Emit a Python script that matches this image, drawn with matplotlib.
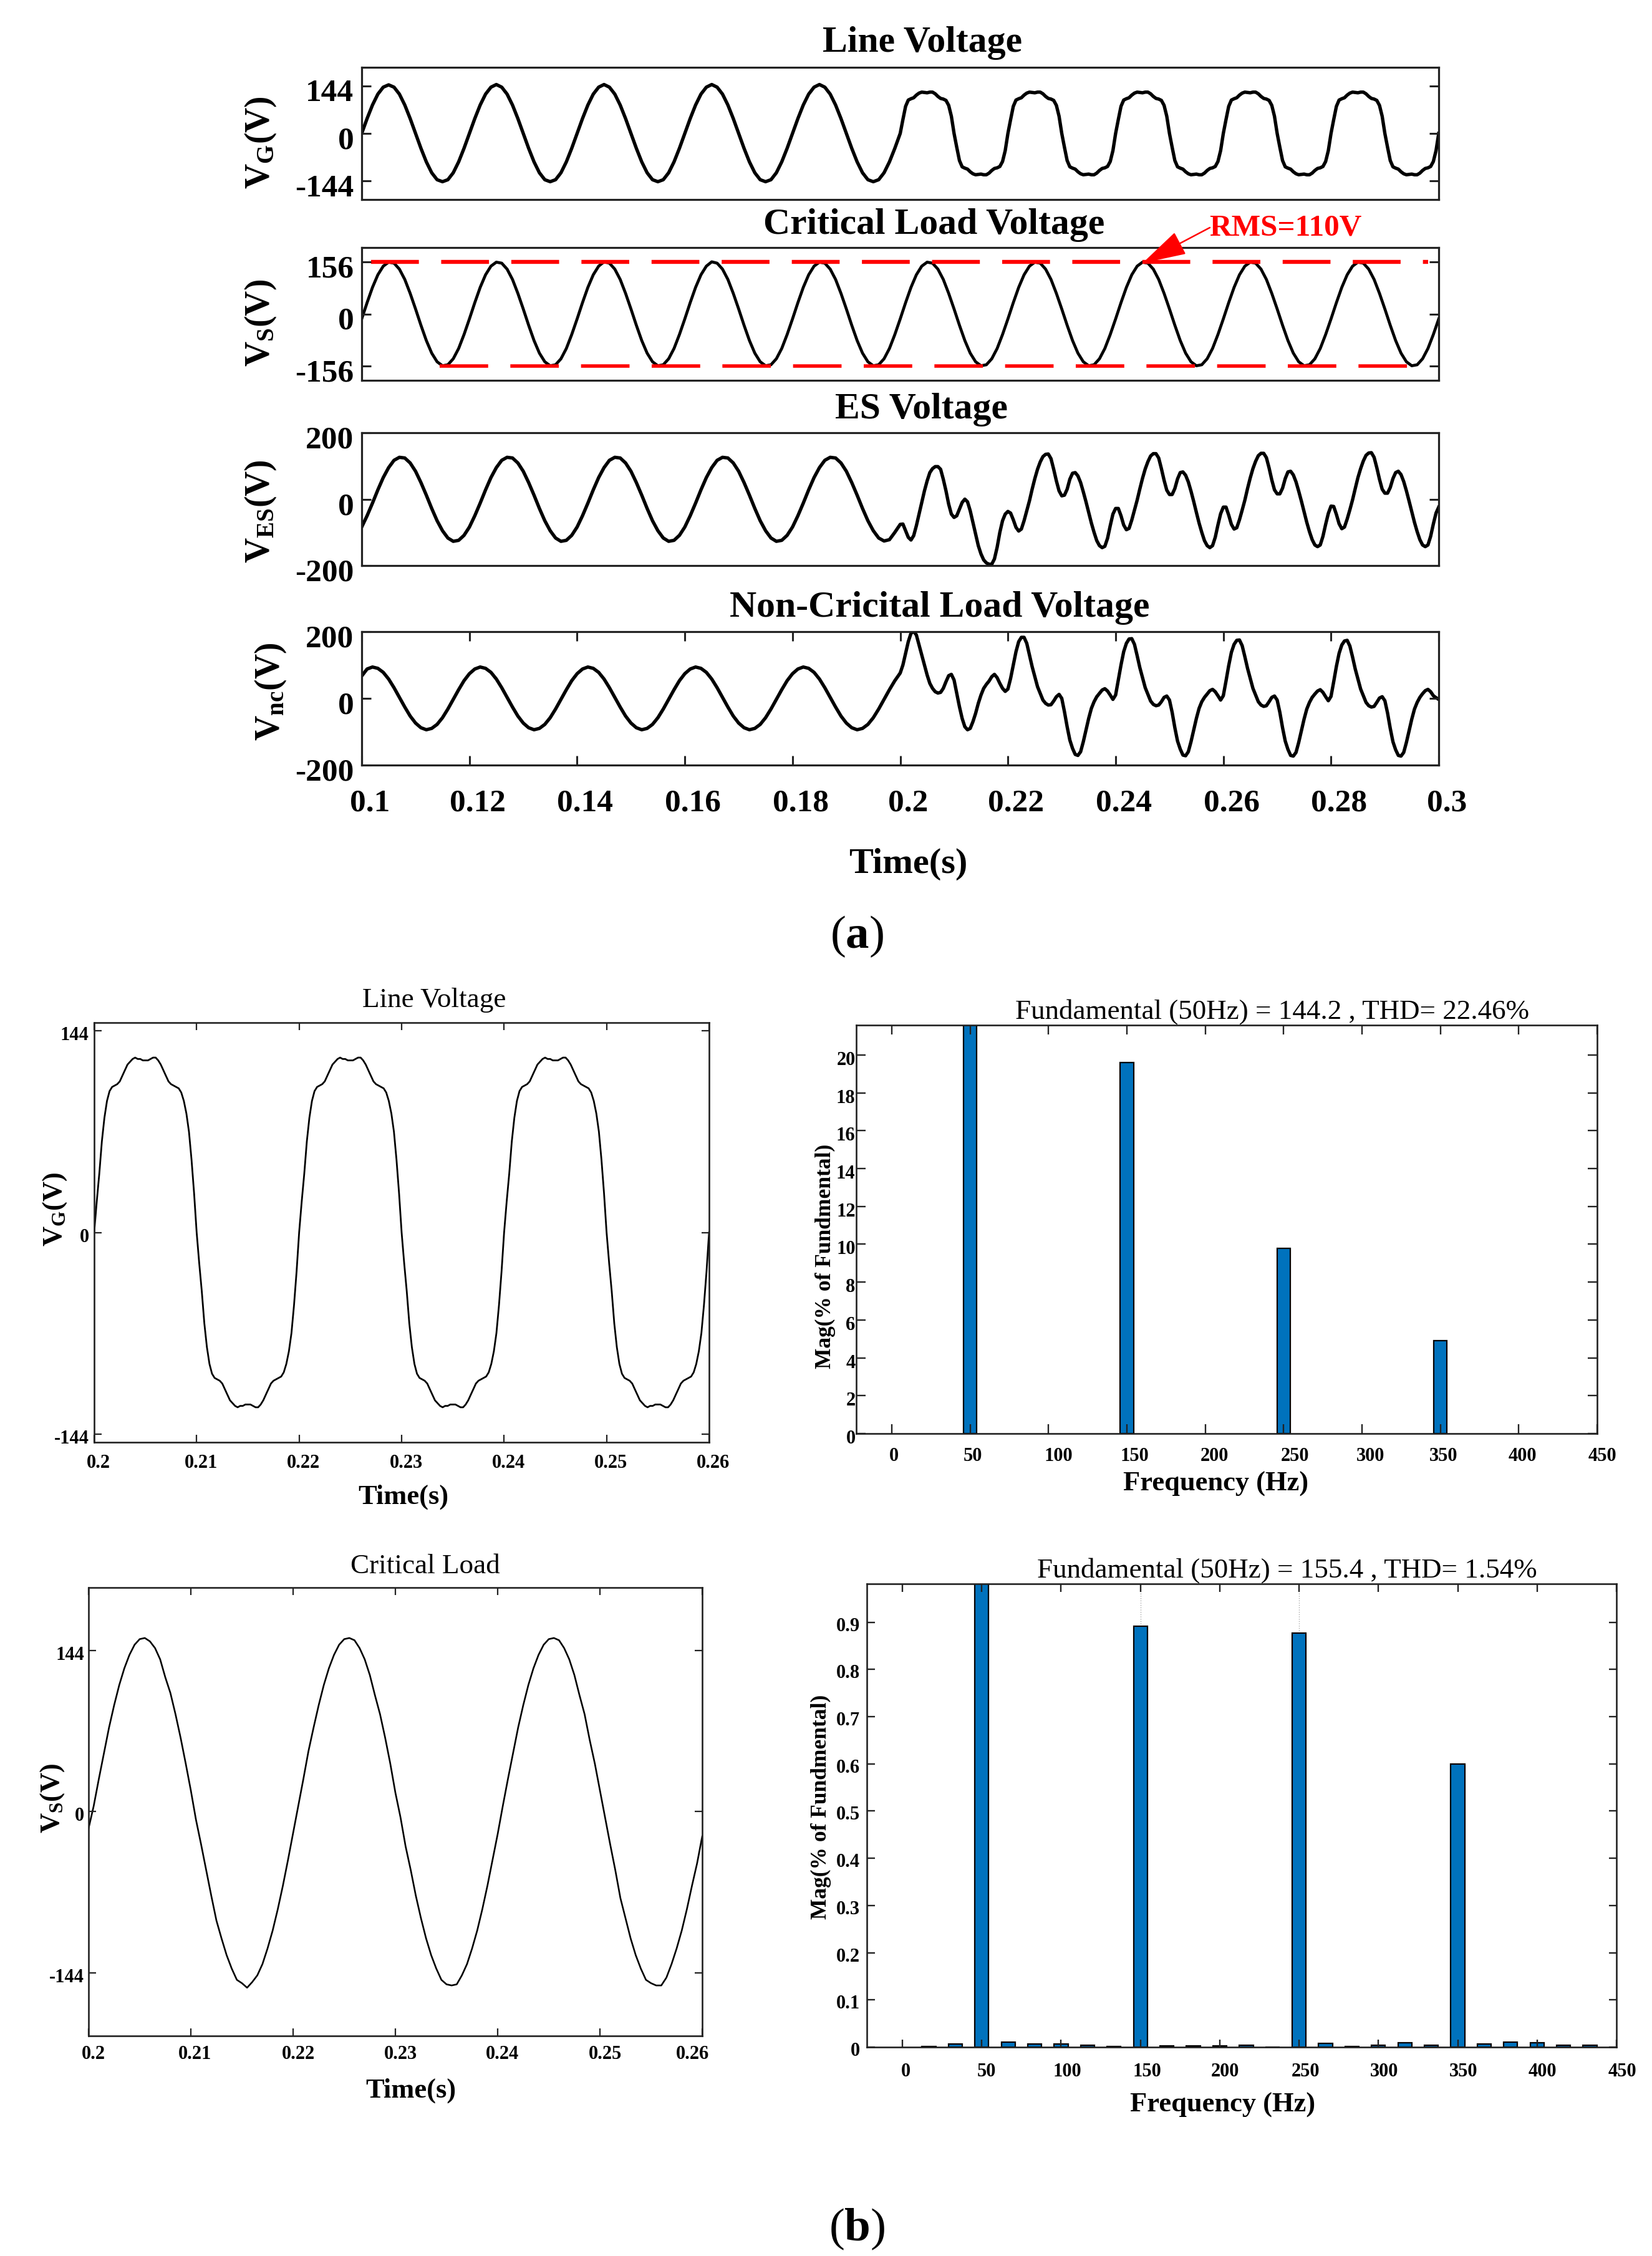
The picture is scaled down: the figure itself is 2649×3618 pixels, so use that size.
import numpy as np
import matplotlib
matplotlib.use("Agg")
import matplotlib.pyplot as plt
from matplotlib.transforms import Affine2D

plt.rcParams['font.family'] = ['Liberation Serif', 'DejaVu Serif']
plt.rcParams['mathtext.fontset'] = 'custom'
plt.rcParams['mathtext.rm'] = 'Liberation Serif'
plt.rcParams['mathtext.it'] = 'Liberation Serif:italic'
plt.rcParams['mathtext.bf'] = 'Liberation Serif:bold'

# ---------- data ----------
# Panel (a): 0.1-0.2 s sampled each 1 ms, 0.2-0.3 s sampled each 0.5 ms
vg_pre = [
 0,45,86,119,140,147,140,119,86,45,0,-45,-86,-119,-140,-146,-140,-119,-86,-45,
 0,45,86,119,140,148,140,119,86,45,0,-45,-86,-119,-140,-146,-140,-119,-86,-45,
 0,45,86,119,140,148,140,119,86,45,0,-45,-86,-119,-140,-146,-140,-119,-86,-45,
 0,45,86,119,140,148,140,119,86,45,0,-45,-86,-119,-140,-146,-140,-119,-86,-45,
 0,45,86,119,140,148,140,119,86,45,0,-45,-86,-119,-140,-146,-140,-119,-86,-45]
vg_post = [
 0,42,82,101,105,108,116,122,125,124,123,125,125,120,112,106,104,100,85,52,
 0,-42,-82,-101,-105,-108,-116,-122,-125,-124,-123,-125,-125,-120,-112,-106,-104,-100,-85,-52,
 0,42,82,101,105,108,116,122,125,124,123,125,125,120,112,106,104,100,85,52,
 0,-42,-82,-101,-105,-108,-116,-122,-125,-124,-123,-125,-125,-120,-112,-106,-104,-100,-85,-52,
 0,42,82,101,105,108,116,122,125,124,123,125,125,120,112,106,104,100,85,52,
 0,-42,-82,-101,-105,-108,-116,-122,-125,-124,-123,-125,-125,-120,-112,-106,-104,-100,-85,-52,
 0,42,82,101,105,108,116,122,125,124,123,125,125,120,112,106,104,100,85,52,
 0,-42,-82,-101,-105,-108,-116,-122,-125,-124,-123,-125,-125,-120,-112,-106,-104,-100,-85,-52,
 0,42,82,101,105,108,116,122,125,124,123,125,125,120,112,106,104,100,85,52,
 0,-42,-82,-101,-105,-108,-116,-122,-125,-124,-123,-125,-125,-120,-112,-106,-104,-100,-85,-52,
 0]
# critical load voltage, 1 ms steps over 0.1-0.3 s
vs_a = [
 -15,34,80,118,144,156,153,135,104,62,15,-34,-80,-118,-144,-156,-153,-135,-104,-62,
 -15,34,80,118,144,156,153,135,104,62,15,-34,-80,-118,-144,-156,-153,-135,-104,-62,
 -15,34,80,118,144,157,153,135,104,62,15,-34,-80,-118,-144,-156,-153,-135,-104,-62,
 -15,34,80,118,144,157,153,135,104,62,15,-34,-80,-118,-144,-156,-153,-135,-104,-62,
 -15,34,80,118,144,156,153,135,104,62,15,-34,-80,-118,-144,-156,-153,-135,-104,-62,
 -15,34,80,118,144,156,153,135,104,62,15,-34,-80,-118,-144,-156,-153,-135,-104,-62,
 -15,34,80,118,144,156,153,135,104,62,15,-34,-80,-118,-144,-156,-153,-135,-104,-62,
 -15,34,80,118,144,156,153,135,104,62,15,-34,-80,-118,-144,-156,-153,-135,-104,-62,
 -15,34,80,118,144,156,153,135,104,62,15,-34,-80,-118,-144,-156,-153,-135,-104,-62,
 -15,34,80,118,144,156,153,135,104,62,15,-34,-80,-118,-144,-156,-153,-135,-104,-62,
 -15]
ves_pre = [
 -84,-50,-12,28,65,95,117,126,124,109,84,50,12,-28,-65,-95,-117,-127,-124,-109,
 -84,-50,-12,28,65,95,117,126,124,109,84,50,12,-28,-65,-95,-117,-127,-124,-109,
 -84,-50,-12,28,65,95,117,126,124,109,84,50,12,-28,-65,-95,-117,-127,-124,-109,
 -84,-50,-12,28,65,95,117,126,124,109,84,50,12,-28,-65,-95,-117,-127,-124,-109,
 -84,-50,-12,28,65,95,117,126,124,109,84,50,12,-28,-65,-95,-117,-126,-122,-100]
ves_post = [
 -76,-75,-95,-115,-123,-110,-80,-45,-10,25,
 55,80,92,98,98,90,60,25,-15,-45,
 -55,-50,-30,-10,0,-8,-35,-70,-105,-140,
 -165,-183,-192,-196,-196,-180,-145,-100,-65,-45,
 -37,-42,-62,-85,-96,-90,
 -65,-35,-5,30,62,90,112,128,135,136,122,90,55,25,10,12,30,60,78,80,
 70,50,22,-8,-40,-72,-100,-125,-140,-146,-142,-118,-80,-45,-28,-28,-50,-78,-92,-88,
 -63,-33,-3,31,63,91,113,130,137,137,124,92,57,27,14,14,32,61,80,82,
 72,52,24,-7,-40,-72,-100,-125,-140,-146,-140,-115,-78,-44,-24,-24,-48,-76,-90,-86,
 -62,-33,-3,32,64,92,114,131,138,138,125,94,58,28,16,16,33,62,82,84,
 73,52,24,-6,-38,-70,-98,-122,-138,-143,-138,-112,-76,-43,-21,-22,-46,-74,-89,-84,
 -60,-32,-2,32,65,92,115,132,139,140,126,95,60,30,18,18,35,62,80,84,
 74,53,25,-6,-38,-70,-98,-122,-138,-143,-138,-112,-75,-42,-24]
vnc_pre = [
 67,88,94,90,78,58,32,3,-26,-53,-74,-88,-94,-90,-78,-58,-32,-3,26,53,
 74,88,94,90,78,58,32,3,-26,-53,-74,-88,-94,-90,-78,-58,-32,-3,26,53,
 74,88,94,90,78,58,32,3,-26,-53,-74,-88,-94,-90,-78,-58,-32,-3,26,53,
 74,88,94,90,78,58,32,3,-26,-53,-74,-88,-94,-90,-78,-58,-32,-3,26,53,
 74,88,94,90,78,58,32,3,-26,-53,-74,-88,-94,-90,-78,-58,-32,-3,26,53]
vnc_post = [
 76,100,135,170,195,201,190,160,130,100,
 70,45,30,20,16,18,30,50,68,72,
 55,15,-25,-60,-85,-94,-90,-70,-45,-15,
 10,30,42,52,65,72,62,45,30,21,
 28,60,100,140,170,183,
 183,165,130,95,65,35,15,-5,-15,-20,-19,-8,5,12,0,-40,-85,-125,-150,-168,
 -171,-160,-130,-95,-60,-30,-10,5,15,25,29,22,10,-3,10,55,100,140,165,178,
 179,162,128,92,62,32,12,-8,-18,-22,-20,-10,3,7,-5,-42,-88,-128,-152,-170,
 -172,-160,-130,-95,-60,-30,-10,3,13,23,27,20,8,-5,8,52,98,138,162,174,
 175,158,125,90,60,30,10,-10,-20,-24,-22,-10,3,7,-5,-42,-88,-128,-153,-171,
 -173,-162,-132,-97,-62,-32,-12,3,13,22,26,18,5,-7,6,50,96,135,160,172,
 174,157,124,88,58,28,8,-12,-22,-26,-24,-12,1,5,-7,-44,-90,-130,-154,-171,
 -173,-162,-132,-97,-62,-32,-12,3,14,23,27,20,8,2,-3]

# Panel (b): line voltage 0.2-0.26 s sampled each 0.25 ms
vg_b = [
 0,22,42,65,82,94,101,104,105,106,108,112,116,120,122,124,125,124,124,123,
 123,123,124,125,125,123,120,116,112,108,106,105,104,103,100,94,85,72,52,28,
 0,-22,-42,-65,-82,-94,-101,-104,-105,-106,-108,-112,-116,-120,-122,-124,-125,-124,-124,-123,
 -123,-123,-124,-125,-125,-123,-120,-116,-112,-108,-106,-105,-104,-103,-100,-94,-85,-72,-52,-28,
 0,22,42,65,82,94,101,104,105,106,108,112,116,120,122,124,125,124,124,123,
 123,123,124,125,125,123,120,116,112,108,106,105,104,103,100,94,85,72,52,28,
 0,-22,-42,-65,-82,-94,-101,-104,-105,-106,-108,-112,-116,-120,-122,-124,-125,-124,-124,-123,
 -123,-123,-124,-125,-125,-123,-120,-116,-112,-108,-106,-105,-104,-103,-100,-94,-85,-72,-52,-28,
 0,22,42,65,82,94,101,104,105,106,108,112,116,120,122,124,125,124,124,123,
 123,123,124,125,125,123,120,116,112,108,106,105,104,103,100,94,85,72,52,28,
 0,-22,-42,-65,-82,-94,-101,-104,-105,-106,-108,-112,-116,-120,-122,-124,-125,-124,-124,-123,
 -123,-123,-124,-125,-125,-123,-120,-116,-112,-108,-106,-105,-104,-103,-100,-94,-85,-72,-52,-28,
 0]
# critical load voltage 0.2-0.26 s sampled each 0.5 ms
vs_b = [
 -15,5,29,52,75,95,113,128,140,149,154,155,152,146,136,120,106,87,66,43,
 19,-7,-29,-52,-75,-97,-113,-128,-140,-150,-153,-157,-152,-146,-136,-122,-106,-87,-66,-43,
 -19,5,29,54,75,95,113,128,140,149,154,155,153,146,136,122,104,87,66,43,
 17,-5,-31,-52,-75,-95,-113,-128,-140,-150,-154,-155,-154,-146,-136,-122,-106,-87,-66,-43,
 -20,5,29,52,75,95,113,128,140,149,154,155,153,146,136,122,104,87,64,43,
 19,-5,-29,-52,-77,-95,-113,-128,-140,-150,-153,-155,-155,-148,-136,-122,-106,-87,-66,-46,
 -22]

# Harmonic spectra
freq_line = [50, 150, 250, 350]
mag_line = [100, 19.6, 9.8, 4.9]
freq_crit = [16.7, 33.3, 50, 66.7, 83.3, 100, 116.7, 133.3, 150, 166.7, 183.3, 200, 216.7,
             233.3, 250, 266.7, 283.3, 300, 316.7, 333.3, 350, 366.7, 383.3, 400, 416.7, 433.3]
mag_crit = [0.001, 0.007, 100, 0.010, 0.007, 0.006, 0.004, 0.001, 0.892, 0.003, 0.003, 0.003, 0.004,
            0.000, 0.877, 0.008, 0.001, 0.004, 0.009, 0.004, 0.600, 0.007, 0.010, 0.009, 0.004, 0.004]
rms_peak = 156
a_time_ticks = [0.1, 0.12, 0.14, 0.16, 0.18, 0.2, 0.22, 0.24, 0.26, 0.28, 0.3]
a_time_labels = ['0.1', '0.12', '0.14', '0.16', '0.18', '0.2', '0.22', '0.24', '0.26', '0.28', '0.3']
b_time_ticks = [0.2, 0.21, 0.22, 0.23, 0.24, 0.25, 0.26]
b_time_labels = ['0.2', '0.21', '0.22', '0.23', '0.24', '0.25', '0.26']
freq_ticks = [0, 50, 100, 150, 200, 250, 300, 350, 400, 450]

# ---------- sampling grids ----------
t_pre = np.linspace(0.1, 0.199, 100)
t_post = np.linspace(0.2, 0.3, 201)
t_a = np.concatenate([t_pre, t_post])
t_vs = np.linspace(0.1, 0.3, 201)
t_vg_b = np.linspace(0.2, 0.26, 241)
t_vs_b = np.linspace(0.2, 0.26, 121)

# ---------- figure helpers (positions in reference pixels) ----------
W, H = 2649, 3618
fig = plt.figure(figsize=(W/100, H/100), dpi=100, facecolor='white')
INK = '#222222'
BLUE = '#0072BD'


def box(l, r, t, b):
    ax = fig.add_axes([l/W, 1-b/H, (r-l)/W, (b-t)/H])
    return ax


def txt(x, y, s, size, bold=True, rot=0, color='black'):
    fig.text(x/W, 1-y/H, s, fontsize=size, fontweight='bold' if bold else 'normal',
             rotation=rot, ha='center', va='center', color=color)


def style(ax, spine, tick_len, tick_w, size, xpad, ypad):
    for s in ax.spines.values():
        s.set_linewidth(spine)
        s.set_color(INK)
    ax.set_axisbelow(False)
    ax.tick_params(axis='both', which='major', direction='in', top=True, right=True,
                   length=tick_len, width=tick_w, color=INK, labelsize=size)
    ax.tick_params(axis='x', pad=xpad)
    ax.tick_params(axis='y', pad=ypad)
    for lab in ax.get_xticklabels() + ax.get_yticklabels():
        lab.set_fontweight('bold')


def shift(labels, dx, dy):
    dxs = dx if isinstance(dx, (list, tuple)) else [dx]*len(labels)
    for lab, d in zip(labels, dxs):
        lab.set_transform(lab.get_transform() + Affine2D().translate(d, dy))


# ---------- panel (a) ----------
A_L, A_R = 580, 2307
a_boxes = [(108, 320), (397, 610), (694, 907), (1013, 1227)]
a_axes = []
for (t, b) in a_boxes:
    ax = box(A_L, A_R, t, b)
    ax.set_xlim(0.1, 0.3)
    ax.set_ylim(-200, 200)
    a_axes.append(ax)

LW_A = 3.9
a_axes[0].plot(t_a, vg_pre + vg_post, color='black', lw=LW_A, solid_joinstyle='round')
a_axes[1].plot(t_vs, vs_a, color='black', lw=3.4, solid_joinstyle='round')
a_axes[1].plot([0.1017, 0.298], [rms_peak, rms_peak], color='red', lw=4.6, linestyle=(0, (12, 5.6)))
a_axes[1].plot([0.1145, 0.2975], [-rms_peak, -rms_peak], color='red', lw=4.0, linestyle=(0, (14, 6.4)))
a_axes[2].plot(t_a, ves_pre + ves_post, color='black', lw=LW_A, solid_joinstyle='round')
a_axes[3].plot(t_a, vnc_pre + vnc_post, color='black', lw=LW_A, solid_joinstyle='round')

a_yticks = [[-144, 0, 144], [-156, 0, 156], [-200, 0, 200], [-200, 0, 200]]
for i, ax in enumerate(a_axes):
    ax.set_yticks(a_yticks[i])
    ax.set_yticklabels([str(v) for v in a_yticks[i]])
    if i == 3:
        ax.set_xticks(a_time_ticks)
        ax.set_xticklabels(a_time_labels)
    else:
        ax.set_xticks([])
    style(ax, 2.3, 11, 2.2, 37, 27.5, 9)
    shift(ax.get_yticklabels(), 0, -7)
    if i == 3:
        shift(ax.get_xticklabels(), 13, 0)

txt(1479, 69, 'Line Voltage', 43)
txt(1498, 361, 'Critical Load Voltage', 43)
txt(1477, 657, 'ES Voltage', 43)
txt(1507, 975, 'Non-Cricital Load Voltage', 43)
txt(2061, 366, 'RMS=110V', 35.5, color='red')
txt(1456, 1386, 'Time(s)', 42)
txt(418, 229, r'$\mathbf{V_{G}(V)}$', 40, rot=90)
txt(418, 518, r'$\mathbf{V_{S}(V)}$', 40, rot=90)
txt(418, 820, r'$\mathbf{V_{ES}(V)}$', 40, rot=90)
txt(434, 1109, r'$\mathbf{V_{nc}(V)}$', 40, rot=90)
a_axes[1].annotate('', xy=(1832, H-422), xycoords='figure pixels',
                   xytext=(1940, H-365), textcoords='figure pixels', annotation_clip=False,
                   arrowprops=dict(arrowstyle='-|>,head_length=1.6,head_width=0.45', mutation_scale=28,
                                   lw=1.8, color='red', shrinkA=0, shrinkB=0))
fig.text(1374/W, 1-1502/H, r'($\mathbf{a}$)', fontsize=54, ha='center', va='center')

# ---------- panel (b), time plots ----------
ax = box(151, 1137, 1640, 2313)
ax.plot(t_vg_b, vg_b, color='black', lw=2.0)
ax.set_xlim(0.2, 0.26)
ax.set_ylim(-150, 150)
ax.set_xticks(b_time_ticks)
ax.set_xticklabels(b_time_labels)
ax.set_yticks([-144, 0, 144])
ax.set_yticklabels(['-144', '0', '144'])
style(ax, 1.9, 8.5, 1.6, 22, 14, 6)
shift(ax.get_xticklabels(), 7, 0)
shift(ax.get_yticklabels(), 0, -4)

ax = box(142, 1126, 2546, 3265)
ax.plot(t_vs_b, vs_b, color='black', lw=1.9)
ax.set_xlim(0.2, 0.26)
ax.set_ylim(-200, 200)
ax.set_xticks(b_time_ticks)
ax.set_xticklabels(b_time_labels)
ax.set_yticks([-144, 0, 144])
ax.set_yticklabels(['-144', '0', '144'])
style(ax, 1.9, 8.5, 1.6, 22, 11, 5)
shift(ax.get_xticklabels(), [8, 7, 8, 8, 8, 9, -15], 0)
shift(ax.get_yticklabels(), 0, -4)

txt(696, 1604, 'Line Voltage', 32.5, bold=False)
txt(682, 2512, 'Critical Load', 32.5, bold=False)
txt(647, 2401, 'Time(s)', 32)
txt(659, 3353, 'Time(s)', 32)
txt(88, 1939, r'$\mathbf{V_{G}(V)}$', 32, rot=90)
txt(84, 2884, r'$\mathbf{V_{S}(V)}$', 32, rot=90)

# ---------- panel (b), spectra ----------
ax = box(1373, 2561, 1644, 2299)
ax.bar(freq_line, mag_line, width=8.5, color=BLUE, edgecolor='black', linewidth=1.6, zorder=2)
ax.set_xlim(-22.7, 450)
ax.set_ylim(0, 21.58)
ax.set_xticks(freq_ticks)
ax.set_xticklabels([str(v) for v in freq_ticks])
ax.set_yticks(list(range(0, 21, 2)))
ax.set_yticklabels([str(v) for v in range(0, 21, 2)])
style(ax, 1.9, 11, 1.7, 22, 16, 1)
shift(ax.get_xticklabels(), [3, 4, 16, 12, 15, 18, 13, 5, 6, 8], 0)
shift(ax.get_yticklabels(), 0, -5)

ax = box(1390, 2592, 2540, 3283)
ax.bar(freq_crit, mag_crit, width=8.75, color=BLUE, edgecolor='black', linewidth=1.6, zorder=2)
ax.vlines([150, 250], [0.892, 0.877], [0.98, 0.98], color='#aaaaaa', lw=1, linestyle=':', zorder=1)
ax.set_xlim(-22.4, 450)
ax.set_ylim(0, 0.9815)
ax.set_xticks(freq_ticks)
ax.set_xticklabels([str(v) for v in freq_ticks])
y4 = [0, 0.1, 0.2, 0.3, 0.4, 0.5, 0.6, 0.7, 0.8, 0.9]
ax.set_yticks(y4)
ax.set_yticklabels(['0'] + [f'{v:.1f}' for v in y4[1:]])
style(ax, 1.9, 9, 1.7, 22, 18, 8)
shift(ax.get_xticklabels(), [5, 8, 10, 11, 9, 10, 9, 9, 9, 9], 0)
shift(ax.get_yticklabels(), 0, -3)

txt(2040, 1623, 'Fundamental (50Hz) = 144.2 , THD= 22.46%', 32.4, bold=False)
txt(2064, 2519, 'Fundamental (50Hz) = 155.4 , THD= 1.54%', 32.4, bold=False)
txt(1950, 2380, 'Frequency (Hz)', 32)
txt(1961, 3376, 'Frequency (Hz)', 32)
txt(1323, 2015, 'Mag(% of Fundmental)', 25.5, rot=90)
txt(1316, 2898, 'Mag(% of Fundmental)', 25.5, rot=90)
fig.text(1374/W, 1-3575/H, r'($\mathbf{b}$)', fontsize=54, ha='center', va='center')

fig.savefig('out.png', dpi=100, facecolor='white')
